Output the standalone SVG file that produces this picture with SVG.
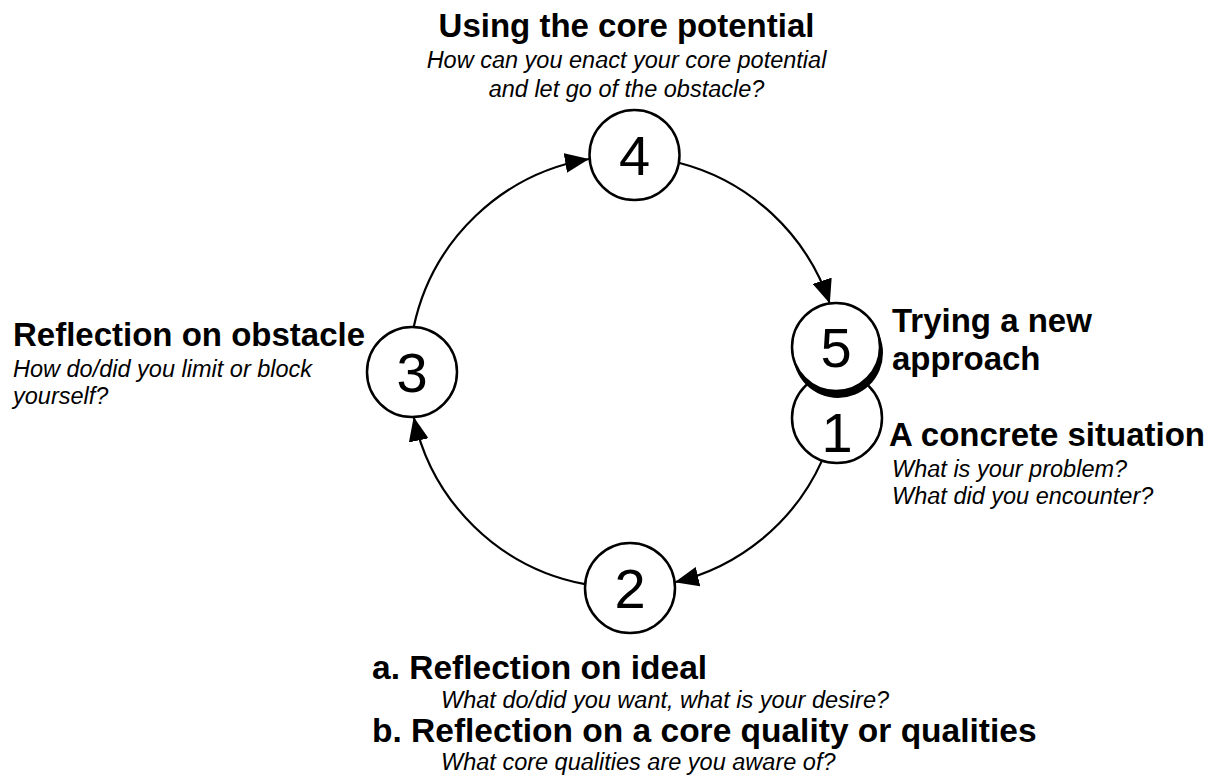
<svg xmlns="http://www.w3.org/2000/svg" width="1223" height="776" viewBox="0 0 1223 776">
<defs>
<style>
.node{fill:#fff;stroke:#000;stroke-width:2.5}
.digit{font-family:"Liberation Sans",Arial,sans-serif;font-size:56px;text-anchor:middle;fill:#000}
.h{font-family:"Liberation Sans",Arial,sans-serif;font-size:33px;font-weight:bold;fill:#000}
.s{font-family:"Liberation Sans",Arial,sans-serif;font-size:23.5px;font-style:italic;fill:#000}
.conn{fill:none;stroke:#000;stroke-width:2.2}
</style>
<marker id="arr" markerUnits="userSpaceOnUse" markerWidth="26" markerHeight="20" refX="24" refY="10" orient="auto">
<path d="M0,0 L24,10 L0,20 Z" fill="#000"/>
</marker>
</defs>
<rect width="1223" height="776" fill="#fff"/>
<g id="connectors">
<path class="conn" d="M822,460.6 A216,216 0 0 1 674.7,582.2" marker-end="url(#arr)"/>
<path class="conn" d="M585,584.2 A216,216 0 0 1 413.7,416.9" marker-end="url(#arr)"/>
<path class="conn" d="M413.7,327.1 A216,216 0 0 1 589,159" marker-end="url(#arr)"/>
<path class="conn" d="M678.7,162.8 A216,216 0 0 1 829.8,303.5" marker-end="url(#arr)"/>
</g>
<g id="node1">
<circle class="node" cx="837" cy="418" r="45"/>
<text class="digit" x="837" y="452">1</text>
</g>
<g id="node5">
<circle cx="838" cy="353" r="45" fill="#000"/>
<circle class="node" cx="836" cy="347" r="44"/>
<text class="digit" x="836" y="367">5</text>
</g>
<g id="node4">
<circle class="node" cx="634.5" cy="155" r="45"/>
<text class="digit" x="634.5" y="175">4</text>
</g>
<g id="node3">
<circle class="node" cx="412" cy="372" r="45"/>
<text class="digit" x="412" y="392">3</text>
</g>
<g id="node2">
<circle class="node" cx="630" cy="588" r="45"/>
<text class="digit" x="630" y="608">2</text>
</g>
<g id="label4">
<text class="h" x="626.5" y="37" text-anchor="middle">Using the core potential</text>
<text class="s" x="626.5" y="68" text-anchor="middle">How can you enact your core potential</text>
<text class="s" x="626.5" y="97" text-anchor="middle">and let go of the obstacle?</text>
</g>
<g id="label3">
<text class="h" x="13" y="346">Reflection on obstacle</text>
<text class="s" x="13" y="377">How do/did you limit or block</text>
<text class="s" x="13" y="404">yourself?</text>
</g>
<g id="label5">
<text class="h" x="892" y="332">Trying a new</text>
<text class="h" x="892" y="370">approach</text>
</g>
<g id="label1">
<text class="h" x="889" y="446">A concrete situation</text>
<text class="s" x="892" y="477">What is your problem?</text>
<text class="s" x="892" y="504">What did you encounter?</text>
</g>
<g id="label2">
<text class="h" x="372" y="679" style="font-size:33.5px">a. Reflection on ideal</text>
<text class="s" x="441" y="708">What do/did you want, what is your desire?</text>
<text class="h" x="372" y="742" style="font-size:33.5px">b. Reflection on a core quality or qualities</text>
<text class="s" x="441" y="770">What core qualities are you aware of?</text>
</g>
</svg>
